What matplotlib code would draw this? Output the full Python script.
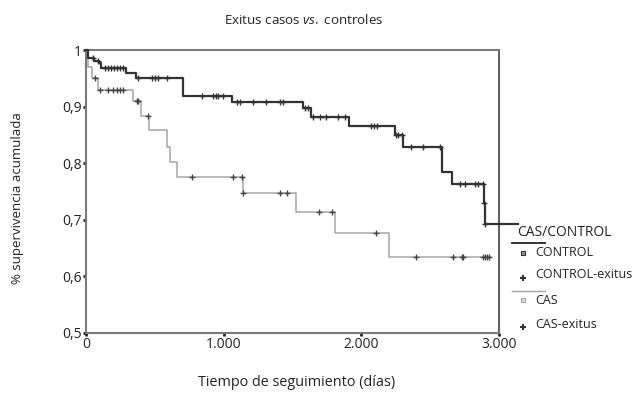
import numpy as np
import matplotlib
matplotlib.use("Agg")
import matplotlib.pyplot as plt
from matplotlib.lines import Line2D

plt.rcParams['font.family'] = ['Open Sans', 'DejaVu Sans']
plt.rcParams['mathtext.fontset'] = 'custom'
plt.rcParams['mathtext.rm'] = 'Open Sans'
plt.rcParams['mathtext.it'] = 'Open Sans:italic'

# Kaplan-Meier steps (days, cumulative survival)
control_t = [0, 15, 58, 94, 109, 288, 361, 705, 1060, 1576, 1634, 1910, 2245, 2303, 2586, 2658, 2891, 2898, 3138]
control_s = [1.0, 0.986, 0.981, 0.977, 0.969, 0.960, 0.950, 0.919, 0.909, 0.897, 0.882, 0.866, 0.850, 0.828, 0.785, 0.763, 0.730, 0.693, 0.693]
control_cens = [51, 87, 138, 160, 182, 203, 225, 247, 269, 378, 479, 501, 523, 588, 843, 923, 944, 959, 995,
                1097, 1119, 1213, 1308, 1409, 1431, 1591, 1613, 1649, 1700, 1743, 1830, 1881, 2070, 2092, 2114,
                2252, 2266, 2295, 2361, 2448, 2571, 2717, 2753, 2826, 2847, 2884, 2894, 2900]

cas_t = [0, 15, 41, 89, 341, 400, 458, 588, 610, 661, 1137, 1525, 1809, 2201, 2935]
cas_s = [1.0, 0.970, 0.950, 0.930, 0.910, 0.883, 0.859, 0.829, 0.803, 0.776, 0.747, 0.713, 0.676, 0.634, 0.634]
cas_cens = [65, 102, 160, 196, 225, 247, 269, 370, 378, 450, 770, 1068, 1133, 1140, 1409, 1460, 1693, 1787,
            2107, 2397, 2666, 2731, 2739, 2884, 2898, 2913, 2927]

ytick_vals = [0.5, 0.6, 0.7, 0.8, 0.9, 1.0]
ytick_labels = ['0,5', '0,6', '0,7', '0,8', '0,9', '1']
xtick_vals = [0, 1000, 2000, 3000]
xtick_labels = ['0', '1.000', '2.000', '3.000']


def surv_at(times, surv, t):
    idx = np.searchsorted(times, t, side='right') - 1
    return np.array(surv)[idx]


W, H = 636, 400
fig = plt.figure(figsize=(W / 100, H / 100), dpi=100)
ax = fig.add_axes([86 / W, 67 / H, 413 / W, 283 / H])

dark = '#333333'
light = '#a5a5a5'

ax.step(control_t, control_s, where='post', color=dark, lw=1.6, clip_on=False, zorder=3)
ax.step(cas_t, cas_s, where='post', color=light, lw=1.1, zorder=2)
ax.plot(control_cens, surv_at(control_t, control_s, control_cens), ls='none', marker='+',
        ms=4, mew=1.0, color=dark, zorder=4)
ax.plot(cas_cens, surv_at(cas_t, cas_s, cas_cens), ls='none', marker='+',
        ms=4, mew=1.0, color='#444444', zorder=4)

ax.set_xlim(0, 3000)
ax.set_ylim(0.5, 1.0)
ax.set_xticks(xtick_vals, labels=xtick_labels)
ax.set_yticks(ytick_vals, labels=ytick_labels)
ax.tick_params(direction='out', length=2, width=2, color='#222222', labelsize=10, pad=1, labelcolor='#222222')
for sp in ax.spines.values():
    sp.set_color('#7a7a7a')
    sp.set_linewidth(1.5)
ax.spines['right'].set_color('#444444')
ax.spines['right'].set_linewidth(1.2)

fig.text(304 / W, 1 - 20 / H, r'Exitus casos $\mathit{vs.}$ controles', ha='center', va='center',
         fontsize=9.6, color='#222222')
fig.text(297 / W, 1 - 383 / H, 'Tiempo de seguimiento (días)', ha='center', va='center',
         fontsize=10.4, color='#222222')
fig.text(18 / W, 1 - 198 / H, '% supervivencia acumulada', ha='center', va='center',
         rotation=90, fontsize=9.5, color='#222222')


# legend drawn by hand, SPSS style
def fx(px):
    return px / W


def fy(py):
    return 1 - py / H


fig.text(fx(517), fy(233), 'CAS/CONTROL', ha='left', va='center', fontsize=10, color='#222222')
fig.add_artist(Line2D([fx(512), fx(545)], [fy(243), fy(243)], color=dark, lw=1.4))
fig.add_artist(Line2D([fx(512), fx(545)], [fy(291), fy(291)], color=light, lw=1.0))
fig.add_artist(Line2D([fx(523)], [fy(253)], marker='s', ms=3.5, mfc='#999999', mec=dark, mew=0.8, ls='none'))
fig.add_artist(Line2D([fx(523)], [fy(278)], marker='+', ms=4, mew=1.5, color=dark, ls='none'))
fig.add_artist(Line2D([fx(523)], [fy(300)], marker='s', ms=3.5, mfc='#e0e0e0', mec=light, mew=0.8, ls='none'))
fig.add_artist(Line2D([fx(523)], [fy(327)], marker='+', ms=4, mew=1.5, color=dark, ls='none'))
for label, py in [('CONTROL', 253), ('CONTROL-exitus', 274), ('CAS', 300), ('CAS-exitus', 325)]:
    fig.text(fx(535), fy(py), label, ha='left', va='center', fontsize=9, color='#222222')

fig.savefig('out.png', dpi=100)
